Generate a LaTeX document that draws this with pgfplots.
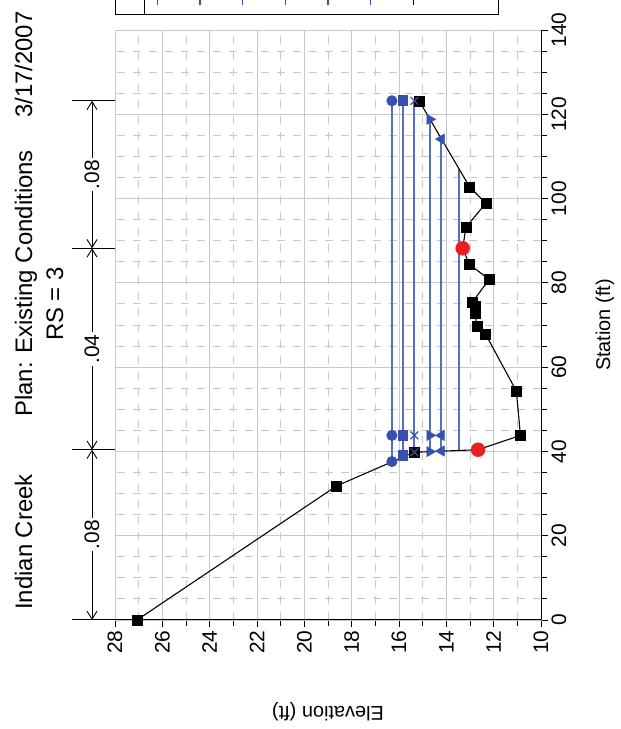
\documentclass[border=0pt]{standalone}
\usepackage{fontspec}
\setmainfont{Liberation Sans}
\usepackage{pgfplots}
\pgfplotsset{compat=1.18}
\usetikzlibrary{arrows.meta}
\definecolor{ws}{RGB}{55,80,175}
\definecolor{wsl}{RGB}{85,110,190}
\definecolor{gridc}{RGB}{200,200,200}
\definecolor{bank}{RGB}{235,30,35}
\begin{document}
\begin{tikzpicture}[x=1bp,y=1bp]
\begin{axis}[
  at={(115bp,109bp)}, anchor=south west,
  scale only axis, width=426bp, height=590bp,
  xmin=10, xmax=28, ymin=0, ymax=140,
  x dir=reverse,
  xtick={10,12,...,28}, ytick={0,20,...,140},
  minor x tick num=1, minor y tick num=3,
  grid=both,
  major grid style={gridc, line width=0.9bp},
  minor grid style={gridc, line width=0.9bp, dash pattern=on 8bp off 8bp},
  axis line style={gridc, line width=0.9bp},
  tick style={black, line width=0.9bp},
  tick align=outside,
  major tick length=7bp, minor tick length=6bp,
  xtick pos=bottom, ytick pos=right,
  xticklabel pos=bottom, yticklabel pos=right,
  /pgf/number format/assume math mode=true,
  tick label style={font=\fontsize{21}{21}\selectfont},
  xticklabel style={rotate=90, anchor=east},
  yticklabel style={rotate=90, anchor=north},
  clip=false,
]
% blue water surfaces (elevation, station)
\addplot[color=wsl, line width=2bp, mark=*, mark size=4.5bp, mark options={ws}] coordinates {(16.30,37.6) (16.30,43.8) (16.30,123.2)};
\addplot[color=wsl, line width=2bp, mark=square*, mark size=4.3bp, mark options={ws}] coordinates {(15.83,39.0) (15.83,43.8) (15.83,123.2)};
\addplot[color=wsl, line width=2bp, mark=none] coordinates {(15.35,39.8) (15.35,123.2)};
\addplot[color=wsl, line width=2bp, mark=none] coordinates {(14.70,39.95) (14.70,118.8)};
\addplot[color=wsl, line width=2bp, mark=none] coordinates {(14.21,40.1) (14.21,114.1)};
\addplot[color=wsl, line width=2bp, mark=none] coordinates {(13.45,40.2) (13.45,106.9)};
% ground
\addplot[black, line width=1.1bp, mark=none] coordinates {
(27.07,0) (18.64,31.8) (15.37,39.8) (12.66,40.4) (10.87,43.8) (11.04,54.3)
(12.35,67.9) (12.71,69.6) (12.78,72.8) (12.78,74.4) (12.89,75.5) (12.19,80.8)
(13.03,84.4) (13.31,88.2) (13.17,93.2) (12.33,98.9) (13.02,102.8) (15.15,123.2)};
\addplot[only marks, mark=square*, mark size=5bp, black] coordinates {
(27.07,0) (18.64,31.8) (15.37,39.8) (10.87,43.8) (11.04,54.3)
(12.35,67.9) (12.71,69.6) (12.78,72.8) (12.78,74.4) (12.89,75.5) (12.19,80.8)
(13.03,84.4) (13.17,93.2) (12.33,98.9) (13.02,102.8) (15.15,123.2)};
% markers of the lower water surfaces
\addplot[only marks, color=ws, mark=x, mark size=5.5bp, mark options={line width=1.2bp}] coordinates {(15.35,39.8) (15.35,43.8) (15.35,123.2)};
\addplot[only marks, color=ws, mark=triangle*, mark size=6bp, mark options={rotate=-90}] coordinates {(14.70,39.95) (14.70,43.8) (14.70,118.8)};
\addplot[only marks, color=ws, mark=triangle*, mark size=6bp, mark options={rotate=90}] coordinates {(14.21,40.1) (14.21,43.8) (14.21,114.1)};
% bank stations
\addplot[only marks, mark=*, mark size=7bp, bank] coordinates {(12.66,40.4) (13.31,88.2)};
% black axis lines
\draw[black, line width=1bp] (axis cs:29.82,0) -- (axis cs:10,0) -- (axis cs:10,140);
% n-value bar
\draw[black, line width=1bp] (axis cs:29.82,40.4) -- (axis cs:28,40.4);
\draw[black, line width=1bp] (axis cs:29.82,88.2) -- (axis cs:28,88.2);
\draw[black, line width=1bp] (axis cs:29.82,123.2) -- (axis cs:28,123.2);
\begin{scope}[line width=0.9bp, {Straight Barb[length=8bp,width=10bp]}-{Straight Barb[length=8bp,width=10bp]}]
\draw (axis cs:28.97,0) -- (axis cs:28.97,40.4) node[midway, fill=white, rotate=90, inner sep=2bp, font=\fontsize{21}{21}\selectfont]{.08};
\draw (axis cs:28.97,40.4) -- (axis cs:28.97,88.2) node[midway, fill=white, rotate=90, inner sep=2bp, font=\fontsize{21}{21}\selectfont]{.04};
\draw (axis cs:28.97,88.2) -- (axis cs:28.97,123.2) node[midway, fill=white, rotate=90, inner sep=2bp, font=\fontsize{21}{21}\selectfont]{.08};
\end{scope}
\end{axis}
% axis titles
\node[rotate=180, font=\fontsize{20}{20}\selectfont] at (328,17) {Elevation (ft)};
\node[rotate=90, font=\fontsize{20}{20}\selectfont] at (605,404) {Station (ft)};
% plot titles
\node[rotate=90, anchor=base west, inner sep=0pt, font=\fontsize{24}{24}\selectfont] at (32,119) {Indian Creek};
\node[rotate=90, anchor=base west, inner sep=0pt, font=\fontsize{24}{24}\selectfont] at (32,312) {Plan: Existing Conditions};
\node[rotate=90, anchor=base west, inner sep=0pt, font=\fontsize{24}{24}\selectfont] at (32,611) {3/17/2007};
\node[rotate=90, anchor=base, inner sep=0pt, font=\fontsize{24}{24}\selectfont] at (63,425) {RS = 3};
% legend box (cut by the top edge)
\draw[black, line width=1bp] (115,714) rectangle (498,780);
\draw[black, line width=1bp] (144.3,714) -- (144.3,780);
\foreach \xx in {157.3,200,242.7,285.3,328,370.7} {\draw[ws, line width=1.2bp] (\xx,724) -- (\xx,735);}
\draw[black, line width=1.2bp] (413.3,724) -- (413.3,735);
\pgfresetboundingbox
\path[use as bounding box] (0,0) rectangle (621,729);
\end{tikzpicture}
\end{document}
